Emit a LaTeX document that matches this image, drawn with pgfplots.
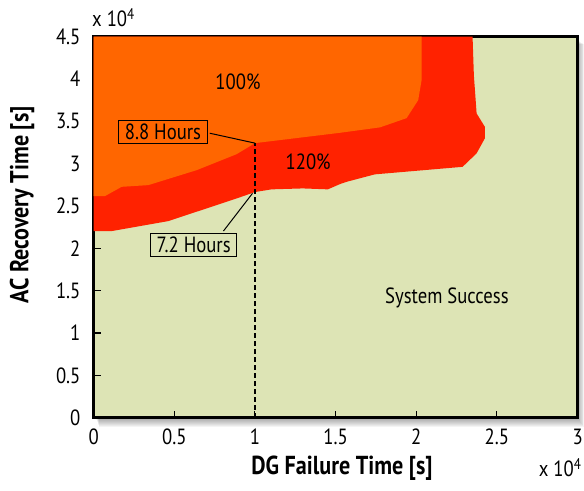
\documentclass[border=0pt]{standalone}
\usepackage{pgfplots}
\pgfplotsset{compat=1.18}
\usepackage{fontspec}
\setmainfont{PT Sans}[FakeStretch=0.85]

\definecolor{succ}{RGB}{221,228,181}
\definecolor{loadA}{RGB}{255,102,0}
\definecolor{loadB}{RGB}{255,34,0}

\newcommand{\lbl}{\fontsize{22bp}{26bp}\selectfont}
\newcommand{\axlbl}{\fontsize{26bp}{31bp}\selectfont\bfseries}

\begin{document}
\begin{tikzpicture}
\path[use as bounding box] (-93.6bp,-73.3bp) rectangle (490.4bp,417.7bp);
% soft drop shadow under the frame
\foreach \k in {1,...,9}{
  \fill[black,opacity=0.045] (2bp+\k*0.4bp,-\k*1bp) rectangle (484bp+\k*0.7bp,378bp-\k*0.5bp);
}
\begin{axis}[
  at={(0,0)}, anchor=south west,
  scale only axis, width=484bp, height=381bp,
  xmin=0, xmax=30000, ymin=0, ymax=45000,
  axis background/.style={fill=succ},
  axis line style={line width=2.6bp},
  tick pos=left, tick align=inside,
  major tick length=7bp,
  tick style={line width=1.1bp, black},
  scaled ticks=false,
  xtick={0,5000,10000,15000,20000,25000,30000},
  xticklabels={0,0.5,1,1.5,2,2.5,3},
  ytick={0,5000,10000,15000,20000,25000,30000,35000,40000,45000},
  yticklabels={0,0.5,1,1.5,2,2.5,3,3.5,4,4.5},
  /pgf/number format/assume math mode=true,
  yticklabel style={font=\lbl, anchor=east, inner sep=0pt, xshift=-13bp},
  xticklabel style={font=\lbl, anchor=north, inner sep=0pt, yshift=-11bp},
  clip=true,
]
% 120% load region (between the two boundaries)
\addplot[fill=loadB, draw=none] coordinates {
  (0,22040) (1120,22040) (4630,23220) (8870,25900) (10000,26650)
  (11030,26970) (12970,27080) (14520,26970) (15270,27590) (15680,27860)
  (17430,28740) (22870,29630) (23740,31220) (24250,32990) (24250,34360)
  (23740,35940) (23570,40460) (23490,45000) (0,45000)
} -- cycle;
% 100% load region
\addplot[fill=loadA, draw=none] coordinates {
  (0,26180) (710,26180) (1740,27270) (3390,27470) (6390,29240)
  (8870,31130) (10000,32430) (15270,33650) (17750,34290) (19400,35380)
  (20120,37510) (20330,39870) (20330,45000) (0,45000)
} -- cycle;
% DG failure at 1e4 s
\addplot[black, line width=1.3bp, dash pattern=on 5bp off 3bp] coordinates {(10000,0) (10000,32430)};

\draw[black, line width=1bp] (axis cs:7200,33600) -- (axis cs:10000,32430);
\draw[black, line width=1bp] (axis cs:8050,22050) -- (axis cs:9850,26500);

\node[draw=black, line width=1bp, inner xsep=6bp, inner ysep=3.5bp, font=\lbl]
  at (axis cs:4300,33730) {8.8 Hours};
\node[draw=black, line width=1bp, inner xsep=6bp, inner ysep=3.5bp, font=\lbl]
  at (axis cs:6200,20450) {7.2 Hours};

\node[font=\lbl] at (axis cs:8950,39630) {100\%};
\node[font=\lbl] at (axis cs:13300,30190) {120\%};
\node[font=\lbl] at (axis cs:21900,14130) {System Success};
\end{axis}

\node[font=\axlbl, rotate=90] at (-71.6bp,212.7bp) {AC Recovery Time [s]};
\node[font=\axlbl] at (248.4bp,-50.3bp) {DG Failure Time [s]};
\node[font=\lbl, anchor=west, inner sep=0pt] at (-1.6bp,400bp) {x 10\textsuperscript{4}};
\node[font=\lbl, anchor=east, inner sep=0pt] at (488bp,-50bp) {x 10\textsuperscript{4}};
\end{tikzpicture}
\end{document}
